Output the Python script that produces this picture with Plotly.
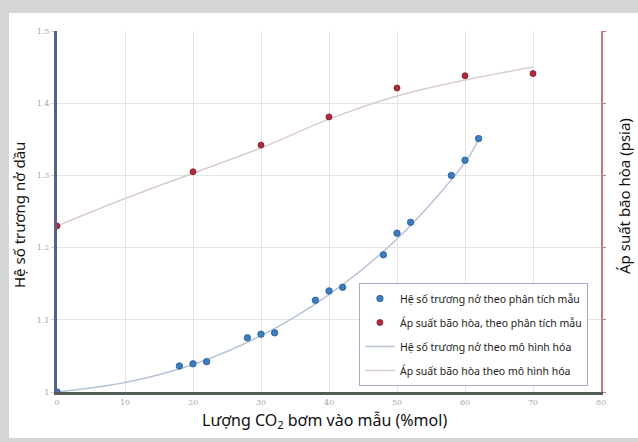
import plotly.graph_objects as go

# ---- data ----
x_ticks = [0, 10, 20, 30, 40, 50, 60, 70, 80]
y_ticks = [1.0, 1.1, 1.2, 1.3, 1.4, 1.5]
y_tick_labels = ["1", "1.1", "1.2", "1.3", "1.4", "1.5"]

co2_swell_obs = [0, 18, 20, 22, 28, 30, 32, 38, 40, 42, 48, 50, 52, 58, 60, 62]
swell_obs = [1.000, 1.036, 1.039, 1.042, 1.075, 1.080, 1.082, 1.127, 1.140, 1.145,
             1.190, 1.220, 1.235, 1.300, 1.321, 1.351]

co2_psat_obs = [0, 20, 30, 40, 50, 60, 70]
psat_obs = [1.230, 1.305, 1.342, 1.381, 1.421, 1.438, 1.441]

co2_swell_model = [0, 10, 20, 30, 40, 50, 60, 62]
swell_model = [1.000, 1.013, 1.038, 1.078, 1.135, 1.212, 1.318, 1.350]

co2_psat_model = [0, 10, 20, 30, 40, 50, 60, 70]
psat_model = [1.230, 1.268, 1.303, 1.338, 1.378, 1.410, 1.432, 1.450]

names = [
    "Hệ số trương nở theo phân tích mẫu",
    "Áp suất bão hòa, theo phân tích mẫu",
    "Hệ số trương nở theo mô hình hóa",
    "Áp suất bão hòa theo mô hình hóa",
]

FONT = "Noto Sans"

fig = go.Figure()

fig.add_trace(go.Scatter(
    x=co2_swell_model, y=swell_model, mode="lines", line=dict(color="#b7c3d9", width=1.5, shape="spline"),
    name=names[2], legendrank=3, legendgroup="c"))
fig.add_trace(go.Scatter(
    x=co2_psat_model, y=psat_model, mode="lines", line=dict(color="#dccdcd", width=1.5, shape="spline"),
    name=names[3], legendrank=4, legendgroup="d", yaxis="y2"))
fig.add_trace(go.Scatter(
    x=co2_swell_obs, y=swell_obs, mode="markers",
    marker=dict(color="#3b7dc0", size=6.5, line=dict(color="#2a5f96", width=0.8)),
    name=names[0], legendrank=1, legendgroup="a"))
fig.add_trace(go.Scatter(
    x=co2_psat_obs, y=psat_obs, mode="markers",
    marker=dict(color="#b02a3c", size=6, line=dict(color="#7e1d2a", width=0.8)),
    name=names[1], legendrank=2, legendgroup="b", yaxis="y2"))

fig.update_layout(
    width=638, height=442,
    margin=dict(l=57, r=37, t=31, b=50),
    paper_bgcolor="#d6d6d6",
    plot_bgcolor="white",
    font=dict(family=FONT, color="#222"),
    showlegend=True,
    legend=dict(
        x=0.555, y=0.302, xanchor="left", yanchor="top",
        bgcolor="white", bordercolor="#a8a8c6", borderwidth=1,
        font=dict(size=10.5, color="#222", family=FONT),
        traceorder="grouped", tracegroupgap=5,
        itemwidth=30,
    ),
    xaxis=dict(
        range=[0, 80], tickvals=x_ticks, ticktext=[str(v) for v in x_ticks],
        showgrid=True, gridcolor="#e4e4e4", gridwidth=1,
        showline=True, linecolor="#535d53", linewidth=3,
        zeroline=False, ticks="", tickfont=dict(size=8, color="#a8a8a8", family="DejaVu Serif"),
        fixedrange=True,
    ),
    yaxis=dict(
        range=[1, 1.5], tickvals=y_ticks, ticktext=y_tick_labels,
        showgrid=True, gridcolor="#e4e4e4", gridwidth=1,
        showline=True, linecolor="#55628a", linewidth=3,
        zeroline=False, ticks="outside", ticklen=3, tickcolor="#d0d0d0",
        tickfont=dict(size=8, color="#a8a8a8", family="DejaVu Serif"),
        fixedrange=True,
    ),
    yaxis2=dict(
        range=[1, 1.5], overlaying="y", side="right", tickvals=y_ticks,
        showticklabels=False, showgrid=False, zeroline=False,
        showline=True, linecolor="#c47a7a", linewidth=2,
        ticks="outside", ticklen=3, tickcolor="#c47a7a",
        fixedrange=True,
    ),
    shapes=[dict(type="rect", xref="paper", yref="paper",
                 x0=-48/544, x1=37/544 + 1, y0=-46/361, y1=1 + 18/361,
                 fillcolor="white", line=dict(width=0), layer="below")],
    annotations=[
        dict(text="Hệ số trương nở dầu", xref="paper", yref="paper",
             x=-38/544, y=(392-215)/361, textangle=-90, showarrow=False,
             xanchor="center", yanchor="middle", font=dict(size=15, color="#111", family=FONT)),
        dict(text="Áp suất bão hòa (psia)", xref="paper", yref="paper",
             x=1 + 23/544, y=(392-196)/361, textangle=-90, showarrow=False,
             xanchor="center", yanchor="middle", font=dict(size=15, color="#111", family=FONT)),
        dict(text="Lượng CO<sub>2</sub> bơm vào mẫu (%mol)", xref="paper", yref="paper",
             x=(324-57)/544, y=-(421-392)/361, showarrow=False,
             xanchor="center", yanchor="middle", font=dict(size=16, color="#111", family=FONT)),
    ],
)

fig.write_html("out.html")
